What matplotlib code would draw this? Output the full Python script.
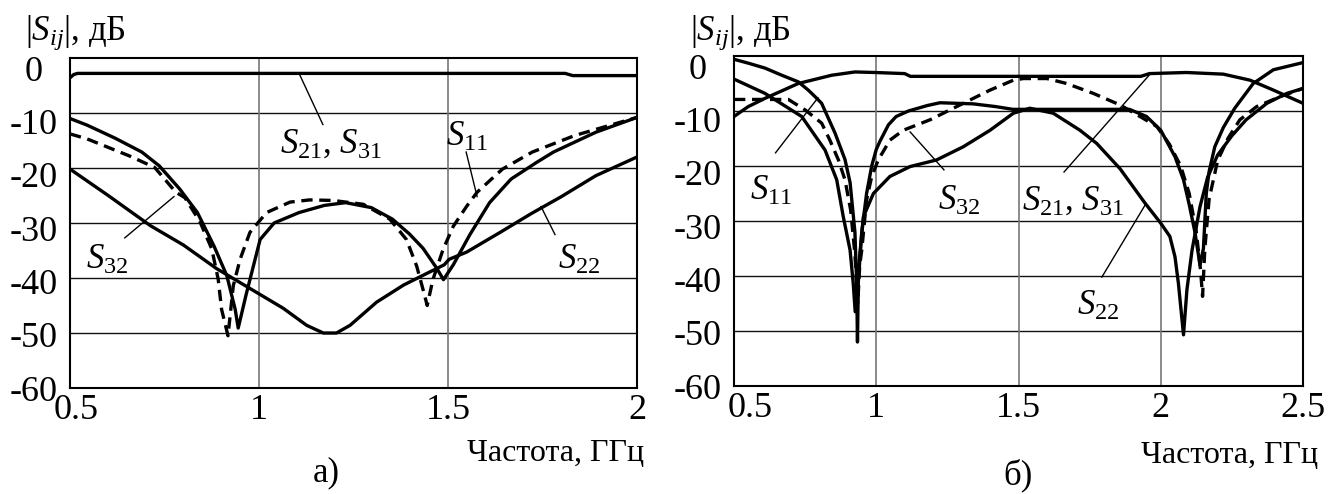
import matplotlib
matplotlib.use("Agg")
import matplotlib.pyplot as plt
from matplotlib.transforms import ScaledTranslation

plt.rcParams["font.family"] = ["Liberation Serif", "DejaVu Serif"]
plt.rcParams["mathtext.fontset"] = "custom"
plt.rcParams["mathtext.rm"] = "Liberation Serif"
plt.rcParams["mathtext.it"] = "Liberation Serif:italic"
plt.rcParams["mathtext.bf"] = "Liberation Serif:bold"

# ---------------- panel a) ----------------
a_s21_f = [0.5, 0.51, 0.52, 1.81, 1.83, 2.0]
a_s21_db = [-3.6, -3.0, -2.8, -2.8, -3.2, -3.2]

a_s11_f = [0.5, 0.545, 0.62, 0.69, 0.736, 0.79, 0.837, 0.881, 0.915, 0.937, 0.945,
           0.966, 0.976, 1.003, 1.04, 1.106, 1.173, 1.229, 1.297, 1.353, 1.398,
           1.434, 1.47, 1.488, 1.514, 1.558, 1.61, 1.667, 1.734, 1.779, 1.891, 2.0]
a_s11_db = [-11.0, -12.2, -14.6, -17.1, -19.6, -23.8, -28.1, -34.2, -39.6, -45.7, -49.1,
            -43.0, -40.3, -33.0, -30.0, -28.1, -26.8, -26.3, -27.2, -29.3, -32.0,
            -34.6, -38.2, -40.3, -37.6, -32.1, -26.3, -22.0, -19.0, -17.1, -13.5, -10.8]

a_s32_f = [0.5, 0.545, 0.657, 0.724, 0.78, 0.804, 0.844, 0.875, 0.892, 0.901,
           0.918, 0.932, 0.95, 0.976, 1.02, 1.082, 1.134, 1.196, 1.276, 1.346,
           1.39, 1.417, 1.434, 1.445, 1.46, 1.487, 1.514, 1.549, 1.577, 1.644,
           1.723, 1.835, 2.0]
a_s32_db = [-13.8, -14.7, -17.8, -19.9, -24.4, -25.4, -29.8, -34.7, -40.2, -45.7,
            -50.5, -41.4, -36.6, -31.7, -28.1, -26.2, -25.8, -25.9, -26.6, -29.3,
            -33.0, -37.8, -42.1, -45.0, -40.3, -34.8, -30.6, -27.0, -24.4, -20.2,
            -17.1, -14.1, -10.8]

a_s22_f = [0.5, 0.601, 0.713, 0.8, 0.888, 0.976, 1.064, 1.126, 1.17, 1.205,
           1.241, 1.311, 1.382, 1.443, 1.49, 1.503, 1.549, 1.638, 1.72, 1.8,
           1.891, 2.0]
a_s22_db = [-20.2, -25.0, -30.5, -34.0, -38.3, -41.9, -45.5, -48.6, -50.0, -50.0,
            -48.6, -44.4, -41.3, -39.2, -37.6, -36.6, -35.3, -31.7, -28.3, -25.2,
            -21.4, -18.0]

# ---------------- panel б) ----------------
b_s21_f = [0.5, 0.55, 0.609, 0.726, 0.843, 0.925, 0.996, 1.10, 1.12, 1.93,
           1.96, 2.09, 2.22, 2.314, 2.396, 2.5]
b_s21_db = [-11.0, -9.2, -7.7, -5.0, -3.5, -2.9, -3.0, -3.2, -3.7, -3.7,
            -3.2, -3.0, -3.3, -4.4, -6.2, -8.6]

b_s11_f = [0.5, 0.55, 0.609, 0.668, 0.726, 0.761, 0.785, 0.808, 0.855, 0.89,
           0.908, 0.925, 0.931, 0.934, 0.937, 0.949, 0.966, 0.984, 1.0, 1.013,
           1.043, 1.07, 1.113, 1.18, 1.224, 1.34, 1.42, 1.48, 1.89, 1.95,
           2.0, 2.05, 2.08, 2.1, 2.12, 2.138, 2.15, 2.16, 2.17, 2.19,
           2.22, 2.26, 2.325, 2.396, 2.5]
b_s11_db = [-0.6, -1.3, -2.2, -3.5, -4.7, -6.2, -7.4, -8.6, -14.0, -18.8,
            -23.0, -32.0, -41.0, -52.0, -41.0, -32.0, -25.0, -20.0, -17.0, -15.5,
            -12.5, -11.0, -10.0, -9.0, -8.5, -8.7, -9.2, -9.7, -9.7, -11.0,
            -13.5, -18.3, -22.5, -27.0, -32.0, -38.0, -35.0, -25.0, -21.0, -16.5,
            -13.0, -9.5, -5.0, -2.5, -1.2]

b_s22_f = [0.5, 0.609, 0.738, 0.82, 0.861, 0.884, 0.908, 0.919, 0.926, 0.935,
           0.955, 0.99, 1.048, 1.119, 1.212, 1.306, 1.4, 1.482, 1.54, 1.622,
           1.716, 1.775, 1.857, 1.944, 2.0, 2.032, 2.05, 2.062, 2.08, 2.092,
           2.11, 2.138, 2.165, 2.2, 2.25, 2.30, 2.373, 2.443, 2.5]
b_s22_db = [-4.2, -6.8, -11.0, -17.1, -22.5, -29.2, -35.3, -41.3, -46.5, -40.0,
            -29.2, -25.0, -21.9, -20.1, -18.9, -16.5, -13.5, -10.4, -9.5, -10.4,
            -13.5, -15.9, -20.5, -26.7, -30.4, -32.8, -36.5, -41.3, -50.7, -42.5,
            -35.3, -27.4, -22.0, -18.0, -14.5, -11.6, -8.6, -6.8, -5.9]

b_s32_f = [0.5, 0.609, 0.691, 0.75, 0.808, 0.837, 0.867, 0.89, 0.91, 0.925,
           0.935, 0.942, 0.949, 0.966, 0.984, 1.007, 1.048, 1.095, 1.189, 1.306,
           1.4, 1.482, 1.517, 1.6, 1.669, 1.763, 1.857, 1.927, 1.986, 2.03,
           2.07, 2.10, 2.125, 2.14, 2.147, 2.155, 2.17, 2.2, 2.236, 2.278,
           2.337, 2.419, 2.5]
b_s32_db = [-7.9, -7.9, -7.9, -9.8, -12.2, -15.3, -18.9, -22.5, -28.0, -36.0,
            -45.0, -38.0, -35.3, -26.2, -21.9, -18.9, -15.3, -13.5, -11.6, -8.6,
            -6.2, -4.4, -4.1, -4.1, -5.0, -6.8, -8.9, -11.0, -12.8, -16.0,
            -20.0, -25.0, -32.0, -39.0, -43.7, -35.0, -26.0, -19.0, -15.0, -11.6,
            -9.2, -7.4, -5.9]

y_ticks = [0, -10, -20, -30, -40, -50, -60]
a_x_ticks = [0.5, 1, 1.5, 2]
b_x_ticks = [0.5, 1, 1.5, 2, 2.5]

W, H = 1340, 494
fig = plt.figure(figsize=(W / 100, H / 100), dpi=100)


def px_axes(l, t, r, b):
    return fig.add_axes([l / W, 1 - b / H, (r - l) / W, (b - t) / H])


def fx(x):
    return x / W


def fy(y):
    return 1 - y / H


ax_a = px_axes(70, 58, 637, 388)
ax_b = px_axes(734, 56, 1303, 386)

LW = 2.4
DASH = (0, (3.4, 2.0))
FS_TICK = 26
FS_NOTE = 25
FS_AXIS = 23


def style(ax, xlim, xticks):
    ax.set_xlim(*xlim)
    ax.set_ylim(-60, 0)
    for v in y_ticks[1:-1]:
        ax.axhline(v, color="#111111", lw=1.0, zorder=1)
    for v in xticks[1:-1]:
        ax.axvline(v, color="#777777", lw=1.2, zorder=1)
    for s in ax.spines.values():
        s.set_linewidth(1.5)
        s.set_color("black")
    ax.set_yticks(y_ticks)
    ax.set_yticklabels([])
    ax.tick_params(axis="y", length=0)
    ax.set_xticks(xticks)
    ax.set_xticklabels([("%g" % v) for v in xticks], fontsize=FS_TICK)
    ax.tick_params(axis="x", length=0, pad=4)
    # value labels of the dB axis, slightly below their grid lines
    for v in y_ticks:
        dy = -(14 - 10 * abs(v) / 60) / 100
        tr = ax.get_yaxis_transform() + ScaledTranslation(-0.36, dy, fig.dpi_scale_trans)
        ax.text(0, v, str(v), transform=tr, ha="center", va="center", fontsize=FS_TICK)


style(ax_a, (0.5, 2.0), a_x_ticks)
style(ax_b, (0.5, 2.5), b_x_ticks)

# shift the first frequency label off the corner
for ax, dx in ((ax_a, 0.06), (ax_b, 0.16)):
    lab = ax.get_xticklabels()[0]
    lab.set_transform(lab.get_transform() + ScaledTranslation(dx, 0, fig.dpi_scale_trans))

# curves, panel a)
ax_a.plot(a_s21_f, a_s21_db, color="black", lw=LW, zorder=3)
ax_a.plot(a_s11_f, a_s11_db, color="black", lw=LW, zorder=3)
ax_a.plot(a_s32_f, a_s32_db, color="black", lw=LW, ls=DASH, zorder=3)
ax_a.plot(a_s22_f, a_s22_db, color="black", lw=LW, zorder=3)

# curves, panel б)
ax_b.plot(b_s21_f, b_s21_db, color="black", lw=LW, zorder=3)
ax_b.plot(b_s11_f, b_s11_db, color="black", lw=LW, zorder=3)
ax_b.plot(b_s22_f, b_s22_db, color="black", lw=LW, zorder=3)
ax_b.plot(b_s32_f, b_s32_db, color="black", lw=LW, ls=DASH, zorder=3)


def callout(ax, text, tip, tail, pos):
    ax.plot([tail[0], tip[0]], [tail[1], tip[1]], color="black", lw=1.0, zorder=4)
    ax.text(pos[0], pos[1], text, ha="center", va="center", fontsize=FS_NOTE, zorder=5)


callout(ax_a, r"$S_{21}$, $S_{31}$", (1.106, -2.8), (1.169, -12.1), (1.19, -15.6))
callout(ax_a, r"$S_{11}$", (1.577, -25.2), (1.548, -17.1), (1.55, -14.5))
callout(ax_a, r"$S_{32}$", (0.775, -25.2), (0.645, -32.7), (0.598, -36.8))
callout(ax_a, r"$S_{22}$", (1.746, -27.0), (1.783, -32.1), (1.847, -36.8))

callout(ax_b, r"$S_{11}$", (0.795, -7.6), (0.646, -17.6), (0.63, -24.6))
callout(ax_b, r"$S_{32}$", (1.119, -13.8), (1.238, -20.7), (1.291, -26.4))
callout(ax_b, r"$S_{21}$, $S_{31}$", (1.959, -3.5), (1.66, -21.1), (1.69, -26.4))
callout(ax_b, r"$S_{22}$", (1.945, -27.1), (1.793, -40.2), (1.779, -45.5))

# axis titles and panel letters
fig.text(fx(25), fy(33), r"$|S_{ij}|$, дБ", ha="left", va="center", fontsize=FS_NOTE)
fig.text(fx(690), fy(33), r"$|S_{ij}|$, дБ", ha="left", va="center", fontsize=FS_NOTE)
fig.text(fx(644), fy(453), "Частота, ГГц", ha="right", va="center", fontsize=FS_AXIS)
fig.text(fx(1318), fy(455), "Частота, ГГц", ha="right", va="center", fontsize=FS_AXIS)
fig.text(fx(326), fy(473), "а)", ha="center", va="center", fontsize=FS_NOTE)
fig.text(fx(1018), fy(475), "б)", ha="center", va="center", fontsize=FS_NOTE)

fig.savefig("out.png", dpi=100, facecolor="white")
